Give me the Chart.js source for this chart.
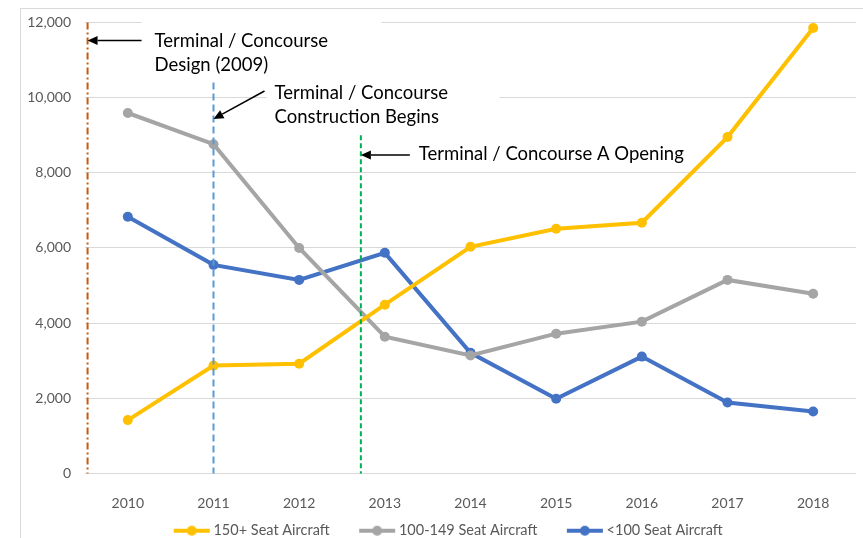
<!DOCTYPE html>
<html lang="en">
<head>
<meta charset="UTF-8">
<title>Aircraft Operations by Seat Class</title>
<script src="https://cdn.jsdelivr.net/npm/chart.js"></script>
<style>
  body { margin: 0; background: #fff; }
  #frame { position: absolute; left: 20px; top: 8px; right: 0; bottom: 0;
           border-left: 1px solid #d9d9d9; border-top: 1px solid #d9d9d9; }
  #wrap { position: absolute; left: 0; top: 0; width: 863px; height: 538px; }
</style>
</head>
<body>
<div id="frame"></div>
<div id="wrap"><canvas id="opsChart"></canvas></div>
<script>
// data
const years = ['2010', '2011', '2012', '2013', '2014', '2015', '2016', '2017', '2018'];
const seats150Plus = [1420, 2870, 2920, 4490, 6030, 6510, 6670, 8950, 11850];
const seats100to149 = [9590, 8760, 6000, 3640, 3140, 3720, 4040, 5150, 4780];
const seatsUnder100 = [6830, 5550, 5150, 5870, 3210, 1990, 3110, 1890, 1650];
const seriesNames = ['150+ Seat Aircraft', '100-149 Seat Aircraft', '<100 Seat Aircraft'];
const yTicks = [0, 2000, 4000, 6000, 8000, 10000, 12000];

// milestones (position on the year axis as index, top of the line as value)
const milestoneText = [
    ['Terminal / Concourse', 'Design (2009)'],
    ['Terminal / Concourse', 'Construction Begins'],
    ['Terminal / Concourse A Opening']
];
const milestoneAt = [-0.47, 1, 2.72];
const milestoneTop = [12000, 10400, 9000];
const arrowTip = [11520, 9430, 8470];

const colors = ['#FFC000', '#A5A5A5', '#4472C4'];
const lineColors = ['#C55A11', '#5B9BD5', '#00B050'];
const dashes = [[7, 3, 2, 3], [7, 4], [5, 3]];

// line + dot marker for the legend; blank left part spaces the items,
// the image is wider than its box so the marker sits close to the text
function legendMarker(color) {
    const c = document.createElement('canvas');
    c.width = 68; c.height = 12;
    const g = c.getContext('2d');
    g.strokeStyle = color; g.lineWidth = 4;
    g.beginPath(); g.moveTo(31, 6); g.lineTo(67, 6); g.stroke();
    g.fillStyle = color;
    g.beginPath(); g.arc(49, 6, 5, 0, Math.PI * 2); g.fill();
    return c;
}
const markers = colors.map(legendMarker);

function arrow(ctx, x1, y1, x2, y2) {
    const a = Math.atan2(y2 - y1, x2 - x1);
    const len = 10, half = 4.5;
    ctx.strokeStyle = '#000'; ctx.fillStyle = '#000'; ctx.lineWidth = 1.5;
    ctx.beginPath();
    ctx.moveTo(x1, y1);
    ctx.lineTo(x2 - Math.cos(a) * len, y2 - Math.sin(a) * len);
    ctx.stroke();
    ctx.beginPath();
    ctx.moveTo(x2, y2);
    ctx.lineTo(x2 - Math.cos(a) * len - Math.sin(a) * half, y2 - Math.sin(a) * len + Math.cos(a) * half);
    ctx.lineTo(x2 - Math.cos(a) * len + Math.sin(a) * half, y2 - Math.sin(a) * len - Math.cos(a) * half);
    ctx.closePath();
    ctx.fill();
}

// tail offset, text offset and white box from each arrow tip
const callouts = [
    { tail: [54, 0], text: [67, 7], box: [54, -27, 240, 64] },
    { tail: [51, -28], text: [61, -20], box: [53, -40, 233, 50] },
    { tail: [49, 0], text: [58, 5], box: [52, -13, 280, 26] }
];

const milestonePlugin = {
    id: 'milestones',
    beforeDatasetsDraw(chart) {
        const ctx = chart.ctx, xs = chart.scales.x, ys = chart.scales.y;
        ctx.save();
        ctx.fillStyle = '#fff';
        callouts.forEach((c, i) => {
            const tx = xs.getPixelForValue(milestoneAt[i]), ty = ys.getPixelForValue(arrowTip[i]);
            ctx.fillRect(tx + c.box[0], ty + c.box[1], c.box[2], c.box[3]);
        });
        ctx.restore();
    },
    afterDatasetsDraw(chart) {
        const ctx = chart.ctx, xs = chart.scales.x, ys = chart.scales.y;
        ctx.save();
        milestoneAt.forEach((v, i) => {
            const x = xs.getPixelForValue(v);
            ctx.strokeStyle = lineColors[i];
            ctx.lineWidth = 2;
            ctx.setLineDash(dashes[i]);
            ctx.beginPath();
            ctx.moveTo(x, ys.getPixelForValue(milestoneTop[i]));
            ctx.lineTo(x, ys.getPixelForValue(0));
            ctx.stroke();
        });
        ctx.setLineDash([]);
        ctx.font = '18.5px Lato';
        ctx.textBaseline = 'alphabetic';
        callouts.forEach((c, i) => {
            const tx = xs.getPixelForValue(milestoneAt[i]), ty = ys.getPixelForValue(arrowTip[i]);
            arrow(ctx, tx + c.tail[0], ty + c.tail[1], tx, ty);
            ctx.fillStyle = '#000';
            milestoneText[i].forEach((line, j) => {
                ctx.fillText(line, tx + c.text[0], ty + c.text[1] + j * 23.5);
            });
        });
        ctx.restore();
    }
};

const ctx = document.getElementById('opsChart').getContext('2d');
const opsChart = new Chart(ctx, {
    type: 'line',
    data: {
        labels: years,
        datasets: [seats150Plus, seats100to149, seatsUnder100].map((d, i) => ({
            label: seriesNames[i],
            data: d,
            borderColor: colors[i],
            backgroundColor: colors[i],
            borderWidth: 4,
            pointRadius: 5,
            pointHoverRadius: 5,
            pointBorderWidth: 0,
            pointBackgroundColor: colors[i],
            tension: 0
        }))
    },
    options: {
        responsive: true,
        maintainAspectRatio: false,
        animation: false,
        events: [],
        layout: { padding: { left: 14, right: 7, top: 21, bottom: -10 } },
        scales: {
            x: {
                offset: true,
                grid: { display: false },
                border: { display: false },
                ticks: { color: '#595959', font: { family: 'Lato', size: 14 }, padding: 14, maxRotation: 0 },
                afterFit(scale) { scale.height = 47; }
            },
            y: {
                min: 0,
                max: 12000,
                afterBuildTicks(scale) { scale.ticks = yTicks.map(v => ({ value: v })); },
                grid: { color: '#d9d9d9', lineWidth: 1, drawTicks: false },
                border: { display: false },
                ticks: {
                    color: '#595959',
                    font: { family: 'Lato', size: 14 },
                    padding: 14,
                    callback: v => v.toLocaleString('en-US')
                },
                afterFit(scale) {
                    scale.width = 71;
                    // labels reach left of the axis box, do not clip them
                    scale._computeLabelArea = () => undefined;
                }
            }
        },
        plugins: {
            tooltip: { enabled: false },
            legend: {
                position: 'bottom',
                labels: {
                    color: '#595959',
                    font: { family: 'Lato', size: 14.5 },
                    usePointStyle: true,
                    pointStyleWidth: 59,
                    padding: 3,
                    generateLabels(chart) {
                        const items = Chart.defaults.plugins.legend.labels.generateLabels(chart);
                        items.forEach((it, i) => { it.pointStyle = markers[i]; });
                        return items;
                    }
                }
            }
        }
    },
    plugins: [milestonePlugin]
});
</script>
</body>
</html>
